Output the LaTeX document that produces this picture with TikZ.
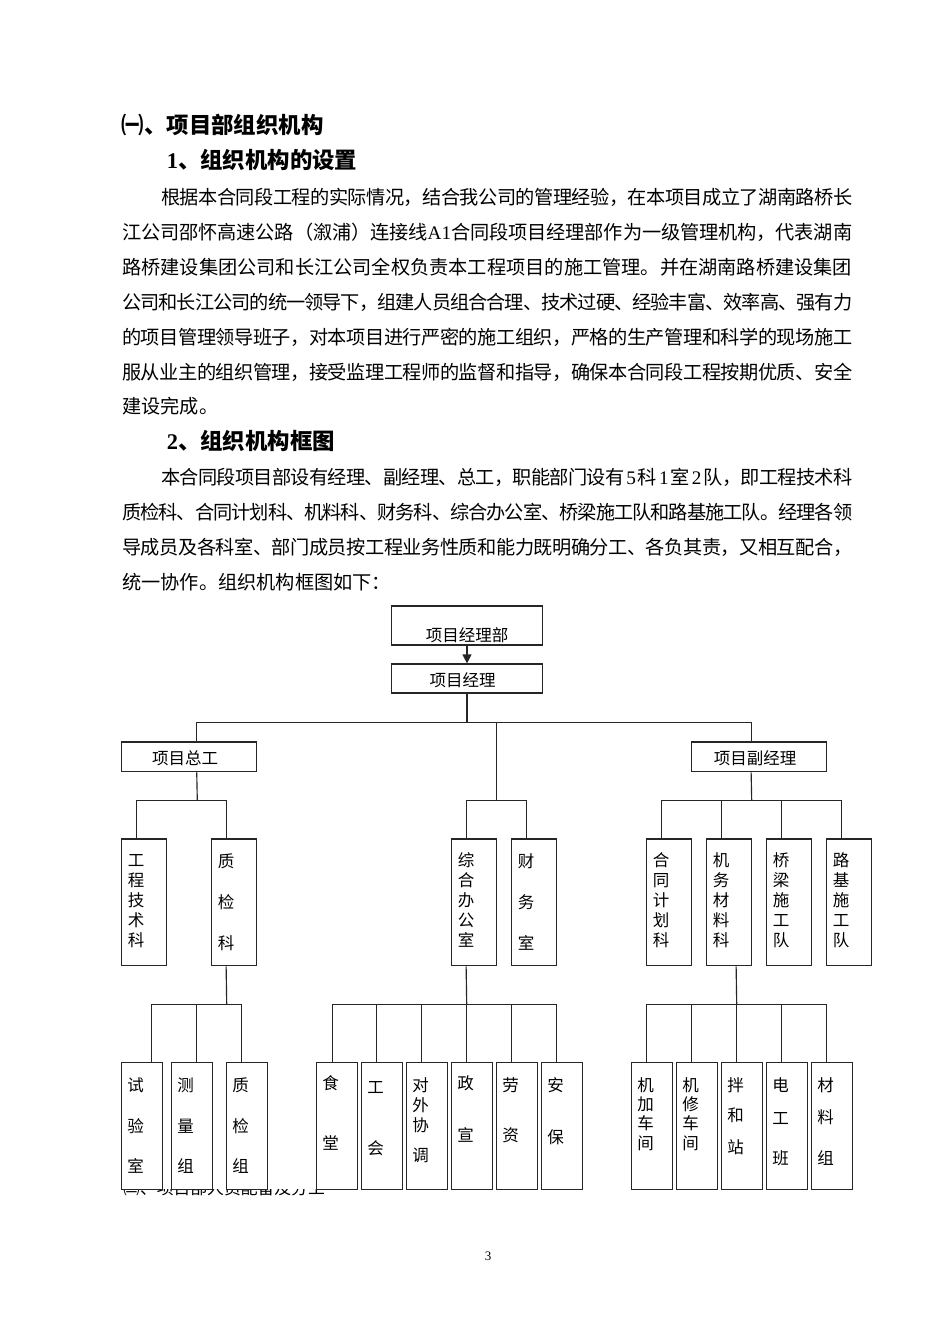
\documentclass[tikz,border=0pt]{standalone}
\usepackage{fontspec}
\setmainfont{Noto Sans CJK SC}
\newfontfamily\latf{Liberation Serif}
\newcommand\lat[1]{{\latf #1}}
\usetikzlibrary{arrows.meta,calc}
% stretchable glue between CJK characters, so lines can be justified
\newXeTeXintercharclass\mycjkclass
\newcount\mycjkcnt
\newcommand\setcjkrange[2]{\mycjkcnt=#1\relax
  \loop\XeTeXcharclass\mycjkcnt=\mycjkclass\relax
  \advance\mycjkcnt by 1\relax
  \ifnum\mycjkcnt<#2\relax\repeat}
\setcjkrange{"3000}{"3040}
\setcjkrange{"3200}{"3260}
\setcjkrange{"4E00}{"A000}
\setcjkrange{"FF00}{"FFF0}
\XeTeXinterchartoks\mycjkclass\mycjkclass={\hskip 0pt plus 2pt minus 1pt\relax}
\XeTeXinterchartoks 0 \mycjkclass={\hskip 0pt plus 2pt minus 1pt\relax}
\XeTeXinterchartoks \mycjkclass 0={\hskip 0pt plus 2pt minus 1pt\relax}
\XeTeXinterchartokenstate=1
\tikzset{
 ln/.style={line width=1.15pt, draw=black!85},
 bx/.style={draw=black!85, line width=1.15pt, fill=white, inner sep=0pt},
 tallbox/.style={bx, minimum width=45pt, minimum height=126.7pt},
 smallbox/.style={bx, minimum width=40.5pt, minimum height=126.6pt},
 midbox/.style={bx, minimum width=135pt, minimum height=29.7pt},
 chr/.style={inner sep=0pt, font=\fontsize{16.5}{20}\selectfont, text height=14.5pt, text depth=2pt},
 bodyline/.style={anchor=west, inner sep=0pt, font=\fontsize{19.2}{22}\selectfont, text height=16.9pt, text depth=2.3pt},
 headline/.style={anchor=west, inner sep=0pt, font=\fontsize{22.4}{26}\selectfont\bfseries, text height=19.7pt, text depth=2.7pt},
}
\newcommand\vtext[3]{\foreach \yy/\cc [count=\k] in {#3}{\node[chr] (#1-\k) at (#2,\yy) {\cc};}}
\begin{document}
\begin{tikzpicture}[x=1pt,y=-1pt]
\useasboundingbox[fill=white] (0,0) rectangle (950,1344);

% ---------- text ----------
\node[headline] (h1) at (121.7,125) {㈠、项目部组织机构};
\node[headline] (h2) at (166.7,160) {\lat{1}、组织机构的设置};
\node[bodyline] (p1a) at (161,197) {\makebox[691pt][s]{根据本合同段工程的实际情况，结合我公司的管理经验，在本项目成立了湖南路桥长}};
\node[bodyline] (p1b) at (122,232) {\makebox[730pt][s]{江公司邵怀高速公路（溆浦）连接线\lat{A1}合同段项目经理部作为一级管理机构，代表湖南}};
\node[bodyline] (p1c) at (122,267) {\makebox[730pt][s]{路桥建设集团公司和长江公司全权负责本工程项目的施工管理。并在湖南路桥建设集团}};
\node[bodyline] (p1d) at (122,302) {\makebox[730pt][s]{公司和长江公司的统一领导下，组建人员组合合理、技术过硬、经验丰富、效率高、强有力}};
\node[bodyline] (p1e) at (122,337) {\makebox[730pt][s]{的项目管理领导班子，对本项目进行严密的施工组织，严格的生产管理和科学的现场施工}};
\node[bodyline] (p1f) at (122,372) {\makebox[730pt][s]{服从业主的组织管理，接受监理工程师的监督和指导，确保本合同段工程按期优质、安全}};
\node[bodyline] (p1g) at (122,406) {建设完成。};
\node[headline] (h3) at (166.7,441) {\lat{2}、组织机构框图};
\node[bodyline] (p2a) at (161,477) {\makebox[691pt][s]{本合同段项目部设有经理、副经理、总工，职能部门设有\hspace{2pt}\lat{5}\hspace{2pt}科\hspace{2pt}\lat{1}\hspace{2pt}室\hspace{2pt}\lat{2}\hspace{2pt}队，即工程技术科}};
\node[bodyline] (p2b) at (122,512) {\makebox[730pt][s]{质检科、合同计划科、机料科、财务科、综合办公室、桥梁施工队和路基施工队。经理各领}};
\node[bodyline] (p2c) at (122,547) {\makebox[730pt][s]{导成员及各科室、部门成员按工程业务性质和能力既明确分工、各负其责，又相互配合，}};
\node[bodyline] (p2d) at (122,582) {统一协作。组织机构框图如下：};

% hidden section line, cut at top
\begin{scope}
\clip (100,1189.5) rectangle (400,1215);
\node[anchor=west, inner sep=0pt, font=\fontsize{16.8}{20}\selectfont, text height=14.8pt, text depth=2pt] (sec2) at (123,1188) {㈡、项目部人员配备及分工};
\end{scope}

\node[inner sep=0pt, font=\latf\fontsize{13}{15}\selectfont] (pg) at (488,1256) {3};

% ---------- chart boxes ----------
\node[bx, minimum width=150.6pt, minimum height=39pt] (pmd) at (467,625.5) {};
\node[chr] (pmd-t) at (467,635) {项目经理部};
\node[bx, minimum width=150.6pt, minimum height=29pt] (pm) at (467,678.5) {};
\node[chr] (pm-t) at (462.5,680.5) {项目经理};

\node[midbox] (zg) at (189.2,756.85) {};
\node[chr] (zg-t) at (185,758.5) {项目总工};
\node[midbox] (fj) at (759.2,756.85) {};
\node[chr] (fj-t) at (755,758.5) {项目副经理};

% level 3
\node[tallbox] (gcjs)  at (144.2,902.35) {};
\node[tallbox] (zjk)   at (234.2,902.35) {};
\node[tallbox] (zhbgs) at (474.2,902.35) {};
\node[tallbox] (cws)   at (534.2,902.35) {};
\node[tallbox] (htjh)  at (669.2,902.35) {};
\node[tallbox] (jwcl)  at (729.2,902.35) {};
\node[tallbox] (qlsg)  at (789.2,902.35) {};
\node[tallbox] (ljsg)  at (849.2,902.35) {};
\vtext{gcjs-t}{136.2}{860/工,880/程,900/技,920/术,940/科}
\vtext{zjk-t}{226.2}{861/质,902/检,943/科}
\vtext{zhbgs-t}{466.2}{860/综,880/合,900/办,920/公,940/室}
\vtext{cws-t}{526.2}{861/财,902/务,943/室}
\vtext{htjh-t}{661.2}{860/合,880/同,900/计,920/划,940/科}
\vtext{jwcl-t}{721.2}{860/机,880/务,900/材,920/料,940/科}
\vtext{qlsg-t}{781.2}{860/桥,880/梁,900/施,920/工,940/队}
\vtext{ljsg-t}{841.2}{860/路,880/基,900/施,920/工,940/队}

% level 4
\node[smallbox] (syss) at (141.95,1126) {};
\node[smallbox] (clz)  at (191.95,1126) {};
\node[smallbox] (zjz)  at (246.95,1126) {};
\node[smallbox] (st)   at (336.95,1126) {};
\node[smallbox] (gh)   at (381.95,1126) {};
\node[smallbox] (dwxt) at (426.95,1126) {};
\node[smallbox] (zx)   at (471.95,1126) {};
\node[smallbox] (lz)   at (516.95,1126) {};
\node[smallbox] (ab)   at (561.95,1126) {};
\node[smallbox] (jjcj) at (651.95,1126) {};
\node[smallbox] (jxcj) at (696.95,1126) {};
\node[smallbox] (bhz)  at (741.95,1126) {};
\node[smallbox] (dgb)  at (786.95,1126) {};
\node[smallbox] (clzu) at (831.95,1126) {};
\vtext{syss-t}{135.7}{1085/试,1126/验,1166/室}
\vtext{clz-t}{185.7}{1085/测,1126/量,1166/组}
\vtext{zjz-t}{240.7}{1085/质,1126/检,1166/组}
\vtext{st-t}{330.7}{1083/食,1143/堂}
\vtext{gh-t}{375.7}{1087/工,1148/会}
\vtext{dwxt-t}{420.7}{1085/对,1105/外,1125/协,1155/调}
\vtext{zx-t}{465.7}{1083/政,1135/宣}
\vtext{lz-t}{510.7}{1085/劳,1135/资}
\vtext{ab-t}{555.7}{1085/安,1137/保}
\vtext{jjcj-t}{645.7}{1085/机,1104/加,1123/车,1143/间}
\vtext{jxcj-t}{690.7}{1085/机,1104/修,1123/车,1143/间}
\vtext{bhz-t}{735.7}{1085/拌,1115/和,1147/站}
\vtext{dgb-t}{780.7}{1085/电,1118/工,1158/班}
\vtext{clzu-t}{825.7}{1085/材,1117/料,1158/组}

% ---------- connectors ----------
\draw[ln, -{Triangle[length=9pt,width=9pt]}] (pmd.south) -- (pm.north);
\coordinate (b1) at (467,722.7);
\draw[ln] (pm.south) -- (b1);
\draw[ln] ([xshift=75.6pt]zg.north west) |- (b1) -| ([xshift=60pt]fj.north west);
\coordinate (b2) at (496.7,800.7);
\draw[ln] (b1) -| (b2);
\draw[ln] ([xshift=15pt]zhbgs.north west) |- (b2) -| ([xshift=15pt]cws.north west);

\coordinate (b3) at (197.3,800.7);
\draw[ln] ([xshift=75.6pt]zg.south west) -- (b3);
\draw[ln] ([xshift=15pt]gcjs.north west) |- (b3) -| ([xshift=15pt]zjk.north west);

\coordinate (b4) at (751.7,800.7);
\draw[ln] ([xshift=60pt]fj.south west) -- (b4);
\draw[ln] ([xshift=15pt]htjh.north west) |- (b4) -| ([xshift=15pt]ljsg.north west);
\draw[ln] ([xshift=15pt]jwcl.north west) -- ([xshift=15pt]jwcl.north west |- b4);
\draw[ln] ([xshift=15pt]qlsg.north west) -- ([xshift=15pt]qlsg.north west |- b4);

\coordinate (c1) at (226.7,1004.3);
\draw[ln] ([xshift=15pt]zjk.south west) -- (c1);
\draw[ln] ([xshift=30pt]syss.north west) |- (c1) -| ([xshift=15pt]zjz.north west);
\draw[ln] ([xshift=25pt]clz.north west) -- ([xshift=25pt]clz.north west |- c1);

\coordinate (c2) at (466.7,1004.3);
\draw[ln] ([xshift=15pt]zhbgs.south west) -- (c2);
\draw[ln] ([xshift=16pt]st.north west) |- (c2) -| ([xshift=15pt]ab.north west);
\foreach \n in {gh,dwxt,zx,lz}
  \draw[ln] ([xshift=15pt]\n.north west) -- ([xshift=15pt]\n.north west |- c2);

\coordinate (c3) at (736.7,1004.3);
\draw[ln] ([xshift=30pt]jwcl.south west) -- (c3);
\draw[ln] ([xshift=15pt]jjcj.north west) |- (c3) -| ([xshift=15pt]clzu.north west);
\foreach \n in {jxcj,bhz,dgb}
  \draw[ln] ([xshift=15pt]\n.north west) -- ([xshift=15pt]\n.north west |- c3);
\end{tikzpicture}
\end{document}
